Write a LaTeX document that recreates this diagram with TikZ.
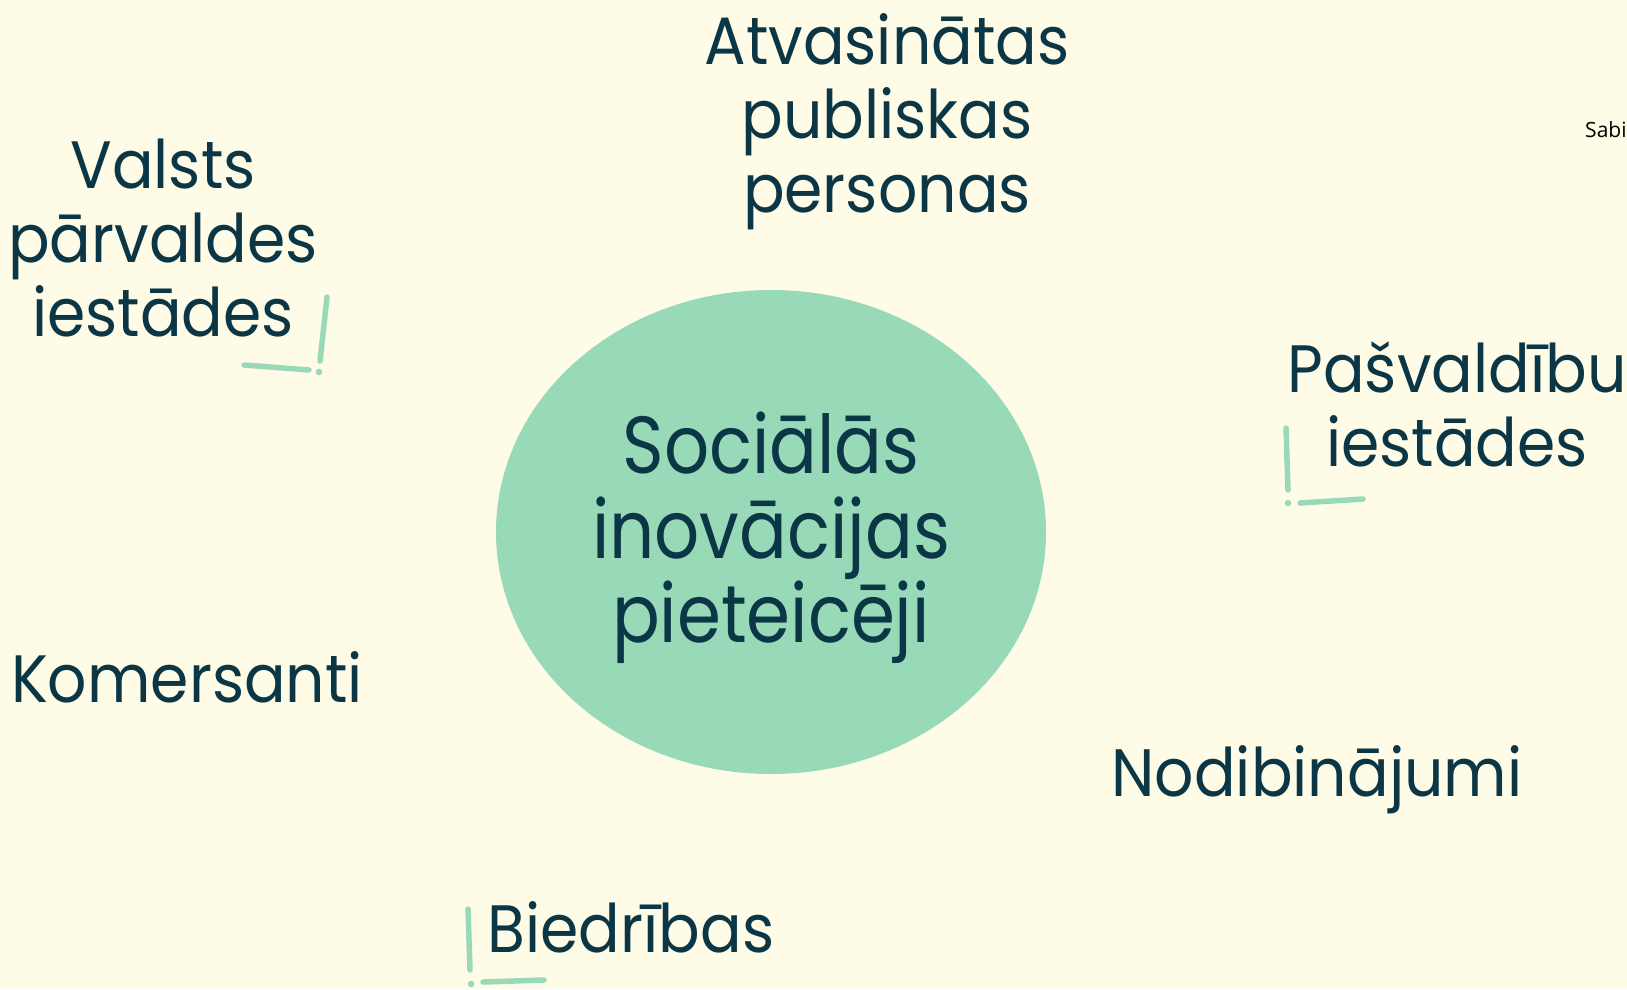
\documentclass[tikz,border=0pt]{standalone}
\usepackage{fontspec}
\setmainfont{Poppins}[FakeStretch=0.92]
\newfontfamily\corefont{Poppins}[FakeStretch=0.873]
\newfontfamily\smallsans{Open Sans}
\usetikzlibrary{shapes.geometric}
\definecolor{bg}{HTML}{FEFCE6}
\definecolor{mint}{HTML}{98D9B8}
\definecolor{ink}{HTML}{0B3646}
\begin{document}
\begin{tikzpicture}[x=1pt,y=-1pt,
  lbl/.style={text=ink, align=center, inner sep=0pt, font=\fontsize{67}{74}\selectfont},
  accent/.style={draw=mint, line width=5.5pt, line cap=round},
  accdot/.style={fill=mint}]
\fill[bg] (0,0) rectangle (1627,989);
\useasboundingbox (0,0) rectangle (1627,989);
\node[ellipse, fill=mint, minimum width=550pt, minimum height=484pt, inner sep=0pt] (core) at (771,532) {};
\node[text=ink, align=center, inner sep=0pt, font=\corefont\fontsize{81}{84.5}\selectfont]
  (coretext) at ([yshift=-6pt]core.center) {Sociālās\\inovācijas\\pieteicēji};
\node[lbl] (atv) at (887,122) {Atvasinātas\\publiskas\\personas};
\node[lbl] (valsts) at (163,238.5) {Valsts\\pārvaldes\\iestādes};
\node[lbl] (pasv) at (1457,404) {Pašvaldību\\iestādes};
\node[lbl, anchor=base] (kom) at (187,702) {Komersanti};
\node[lbl, anchor=base] (nod) at (1317,796) {Nodibinājumi};
\node[lbl, anchor=base] (bied) at (631,952) {Biedrības};
\node[anchor=base west, inner sep=0pt, text=black, font=\smallsans\fontsize{21}{24}\selectfont] (sabi) at (1585,137) {Sabi};
% accent marks
\draw[accent] (327,297) -- (320,361);
\fill[accdot] (319,372) circle (3.3pt);
\draw[accent] (244,365) -- (309,370);
\draw[accent] (1286,428) -- (1288,490);
\fill[accdot] (1288,503) circle (3.3pt);
\draw[accent] (1300,503) -- (1363,499);
\draw[accent] (468,909) -- (470,970);
\fill[accdot] (471,984) circle (3.3pt);
\draw[accent] (483,982) -- (544,980);
\end{tikzpicture}
\end{document}
